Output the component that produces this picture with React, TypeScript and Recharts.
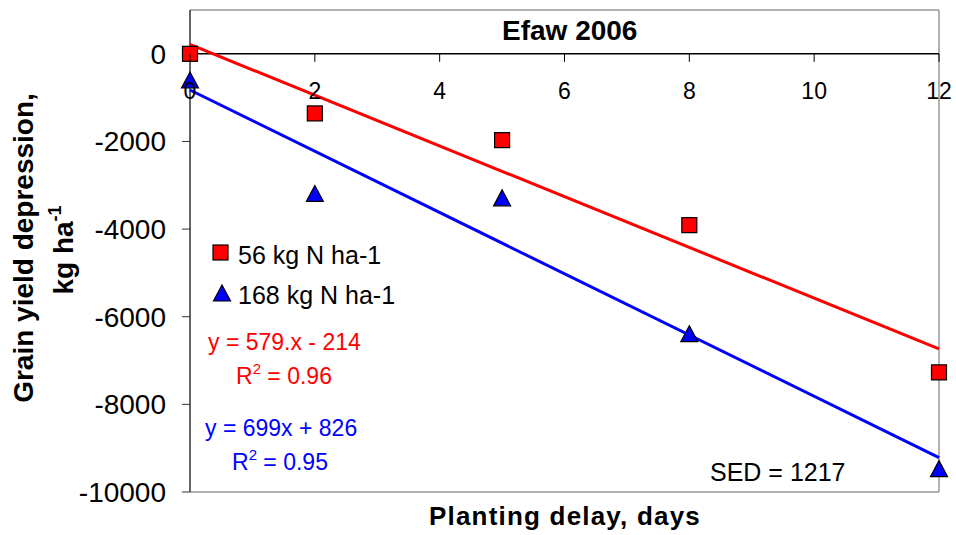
import { Legend, ReferenceLine, Scatter, ScatterChart, XAxis, YAxis } from "recharts"

// planting delay (days) and yield depression (kg/ha)
const days = [0, 2, 5, 8, 12]
const yield56 = [0, -1360, -1970, -3910, -7270]
const yield168 = [-620, -3210, -3310, -6410, -9490]

// fitted lines, end points at 0 and 12 days
const trendDays = [0, 12]
const trend56 = [214, -6734]
const trend168 = [-826, -9214]

const xTicks = [0, 2, 4, 6, 8, 10, 12]
const yTicks = [-10000, -8000, -6000, -4000, -2000, 0]
const seriesNames = ["56 kg N ha-1", "168 kg N ha-1"]

const W = 956
const H = 535
const TOP = 10
const BOTTOM = 492
const Y_MIN = -10000
const Y_MAX = 1000
const FONT = "'Liberation Sans', Arial, Helvetica, sans-serif"

const pts = (xs: number[], ys: number[]) => xs.map((x, i) => ({ x, y: ys[i] }))

const Square = (p: any) => (
  <rect x={p.cx - 7.5} y={p.cy - 7.5} width={15} height={15} fill="#ff0000" stroke="#000" strokeWidth={1.2} />
)
const Triangle = (p: any) => (
  <polygon
    points={`${p.cx},${p.cy - 9} ${p.cx + 8.5},${p.cy + 7} ${p.cx - 8.5},${p.cy + 7}`}
    fill="#0000ff"
    stroke="#000"
    strokeWidth={1.2}
  />
)
const NoDot = () => <g />

// x axis crosses at y = 0, so ticks are drawn there
const XTick = (p: any) => {
  const y0 = TOP + ((BOTTOM - TOP) * Y_MAX) / (Y_MAX - Y_MIN)
  return (
    <g>
      <line x1={p.x} x2={p.x} y1={y0} y2={y0 + 8} stroke="#000" strokeWidth={1} />
      <text x={p.x} y={y0 + 45} textAnchor="middle" fontSize={23} fontFamily={FONT} fill="#000">
        {p.payload.value}
      </text>
    </g>
  )
}

const LegendBox = () => (
  <svg width={200} height={80} style={{ display: "block" }}>
    <rect x={8} y={10} width={15} height={15} fill="#ff0000" stroke="#000" strokeWidth={1.2} />
    <text x={33} y={29} fontSize={25} fontFamily={FONT} fill="#000">{seriesNames[0]}</text>
    <polygon points="17,50 25.5,66 8.5,66" fill="#0000ff" stroke="#000" strokeWidth={1.2} />
    <text x={33} y={69} fontSize={25} fontFamily={FONT} fill="#000">{seriesNames[1]}</text>
  </svg>
)

export default function App() {
  return (
    <div style={{ position: "absolute", left: 0, top: 0, width: W, height: H, background: "#fff" }}>
      <ScatterChart width={W} height={H} margin={{ top: TOP, right: 17, bottom: H - BOTTOM - 1, left: 80 }}>
        <XAxis
          dataKey="x"
          type="number"
          domain={[0, 12]}
          ticks={xTicks}
          height={1}
          axisLine={false}
          tickLine={false}
          tick={<XTick />}
        />
        <YAxis
          dataKey="y"
          type="number"
          domain={[Y_MIN, Y_MAX]}
          ticks={yTicks}
          width={110}
          tickSize={8}
          tickMargin={16}
          axisLine={{ stroke: "#333", strokeWidth: 1.5 }}
          tickLine={{ stroke: "#333", strokeWidth: 1 }}
          tick={{ fontSize: 28, fill: "#000", fontFamily: FONT }}
        />
        <ReferenceLine y={Y_MAX} stroke="#999" strokeWidth={1.5} />
        <ReferenceLine y={Y_MIN} stroke="#999" strokeWidth={1.5} />
        <ReferenceLine x={12} stroke="#999" strokeWidth={1.5} />
        <ReferenceLine y={0} stroke="#000" strokeWidth={1.5} />
        <Legend
          layout="horizontal"
          verticalAlign="middle"
          align="center"
          content={<LegendBox />}
          wrapperStyle={{ position: "absolute", left: 205, top: 235, width: 200, height: 80 }}
        />
        <Scatter
          data={pts(trendDays, trend56)}
          line={{ stroke: "#ff0000", strokeWidth: 3 }}
          shape={<NoDot />}
          legendType="none"
          isAnimationActive={false}
        />
        <Scatter
          data={pts(trendDays, trend168)}
          line={{ stroke: "#0000ff", strokeWidth: 3 }}
          shape={<NoDot />}
          legendType="none"
          isAnimationActive={false}
        />
        <Scatter name={seriesNames[0]} data={pts(days, yield56)} shape={<Square />} isAnimationActive={false} />
        <Scatter name={seriesNames[1]} data={pts(days, yield168)} shape={<Triangle />} isAnimationActive={false} />
      </ScatterChart>

      <svg width={W} height={H} style={{ position: "absolute", left: 0, top: 0, pointerEvents: "none" }}>
        <g fontFamily={FONT}>
          <text x={502} y={40} fontSize={28} fontWeight="bold" fill="#000">Efaw 2006</text>
          <text x={208} y={350} fontSize={23} fill="#ff0000">y = 579.x - 214</text>
          <text x={236} y={384} fontSize={23} fill="#ff0000">
            R<tspan dy={-10} fontSize={15}>2</tspan><tspan dy={10}> = 0.96</tspan>
          </text>
          <text x={205} y={436} fontSize={23} fill="#0000ff">y = 699x + 826</text>
          <text x={232} y={470} fontSize={23} fill="#0000ff">
            R<tspan dy={-10} fontSize={15}>2</tspan><tspan dy={10}> = 0.95</tspan>
          </text>
          <text x={710} y={481} fontSize={25} fill="#000">SED = 1217</text>
          <text x={565} y={525} fontSize={26} fontWeight="bold" letterSpacing={1.2} textAnchor="middle" fill="#000">
            Planting delay, days
          </text>
          <text x={33} y={248} fontSize={28} fontWeight="bold" textAnchor="middle" fill="#000" transform="rotate(-90 33 248)">
            Grain yield depression,
          </text>
          <text x={73} y={250} fontSize={28} fontWeight="bold" textAnchor="middle" fill="#000" transform="rotate(-90 73 250)">
            kg ha<tspan dy={-12} fontSize={18}>-1</tspan>
          </text>
        </g>
      </svg>
    </div>
  )
}
